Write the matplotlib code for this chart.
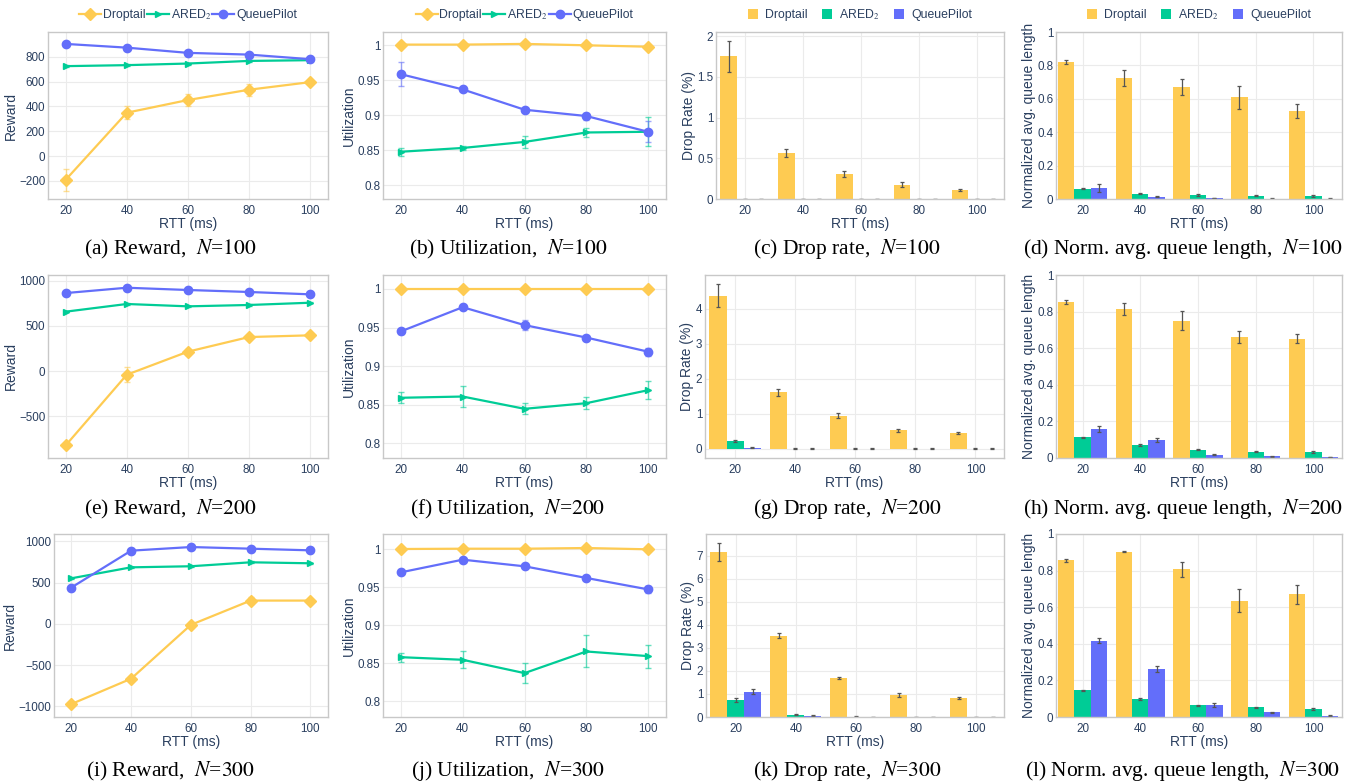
import matplotlib.pyplot as plt
import numpy as np
from matplotlib.ticker import FuncFormatter

plt.rcParams['font.family'] = ['Liberation Sans', 'DejaVu Sans']
plt.rcParams['mathtext.fontset'] = 'stix'

# Data
rtt = np.array([20, 40, 60, 80, 100])
schemes = ['Droptail', 'ARED$_2$', 'QueuePilot']
colors = ['#FECB52', '#00CC96', '#636EFA']
markers = ['D', '>', 'o']
flows = [100, 200, 300]

# reward: rows = Droptail, ARED2, QueuePilot
reward_100 = [[-190, 350, 452, 535, 596], [725, 733, 746, 767, 773], [904, 874, 832, 818, 781]]
reward_100_err = [[90, 50, 45, 50, 10], [10, 8, 8, 10, 10], [8, 8, 8, 8, 10]]
reward_200 = [[-823, -41, 214, 376, 395], [657, 742, 716, 731, 756], [863, 922, 897, 875, 849]]
reward_200_err = [[10, 80, 35, 20, 10], [8, 8, 8, 8, 8], [8, 8, 8, 8, 8]]
reward_300 = [[-972, -665, -12, 282, 282], [552, 685, 698, 746, 734], [440, 887, 931, 911, 891]]
reward_300_err = [[10, 15, 40, 40, 15], [8, 8, 8, 12, 8], [8, 8, 8, 8, 8]]

# utilization
util_100 = [[1.001, 1.001, 1.002, 1.0, 0.998], [0.848, 0.8534, 0.862, 0.8755, 0.8765], [0.9587, 0.937, 0.908, 0.899, 0.8765]]
util_100_err = [[0.002, 0.002, 0.002, 0.002, 0.002], [0.006, 0.003, 0.009, 0.006, 0.021], [0.017, 0.002, 0.002, 0.005, 0.015]]
util_200 = [[1.0, 1.0, 1.0, 1.0, 1.0], [0.859, 0.8606, 0.8447, 0.852, 0.8688], [0.945, 0.9763, 0.9531, 0.937, 0.9187]]
util_200_err = [[0.001, 0.001, 0.001, 0.001, 0.001], [0.007, 0.013, 0.007, 0.008, 0.012], [0.003, 0.002, 0.006, 0.002, 0.005]]
util_300 = [[1.0, 1.0004, 1.0004, 1.0013, 0.9996], [0.858, 0.8546, 0.8371, 0.8655, 0.8594], [0.9694, 0.986, 0.9773, 0.962, 0.947]]
util_300_err = [[0.001, 0.001, 0.001, 0.004, 0.001], [0.006, 0.011, 0.013, 0.021, 0.015], [0.002, 0.002, 0.002, 0.002, 0.005]]

# drop rate (%)
drop_100 = [[1.755, 0.563, 0.306, 0.175, 0.114], [0.002, 0.002, 0.002, 0.002, 0.002], [0.002, 0.002, 0.002, 0.002, 0.002]]
drop_100_err = [[0.19, 0.05, 0.035, 0.03, 0.01], [0.001, 0.001, 0.001, 0.001, 0.001], [0.001, 0.001, 0.001, 0.001, 0.001]]
drop_200 = [[4.38, 1.615, 0.94, 0.532, 0.447], [0.218, 0.005, 0.003, 0.003, 0.003], [0.03, 0.005, 0.003, 0.003, 0.003]]
drop_200_err = [[0.33, 0.1, 0.07, 0.04, 0.03], [0.03, 0.003, 0.003, 0.003, 0.003], [0.01, 0.003, 0.003, 0.003, 0.003]]
drop_300 = [[7.16, 3.535, 1.69, 0.95, 0.81], [0.736, 0.1, 0.015, 0.005, 0.005], [1.097, 0.058, 0.005, 0.005, 0.005]]
drop_300_err = [[0.37, 0.1, 0.04, 0.07, 0.05], [0.07, 0.02, 0.01, 0.005, 0.005], [0.1, 0.02, 0.005, 0.005, 0.005]]

# normalized avg. queue length
queue_100 = [[0.822, 0.7226, 0.6727, 0.609, 0.527], [0.06, 0.032, 0.024, 0.018, 0.018], [0.064, 0.014, 0.006, 0.002, 0.002]]
queue_100_err = [[0.012, 0.048, 0.048, 0.068, 0.042], [0.003, 0.004, 0.004, 0.003, 0.005], [0.025, 0.004, 0.002, 0.002, 0.002]]
queue_200 = [[0.851, 0.815, 0.751, 0.662, 0.653], [0.114, 0.071, 0.045, 0.034, 0.033], [0.158, 0.1, 0.018, 0.009, 0.005]]
queue_200_err = [[0.012, 0.033, 0.05, 0.033, 0.025], [0.003, 0.003, 0.003, 0.003, 0.005], [0.015, 0.01, 0.003, 0.002, 0.002]]
queue_300 = [[0.856, 0.903, 0.8066, 0.635, 0.67], [0.146, 0.0985, 0.064, 0.053, 0.044], [0.416, 0.261, 0.064, 0.0255, 0.0073]]
queue_300_err = [[0.01, 0.003, 0.04, 0.062, 0.05], [0.002, 0.003, 0.004, 0.004, 0.004], [0.013, 0.017, 0.01, 0.003, 0.002]]

metrics = [
    ('Reward', 'Reward', 'line', [reward_100, reward_200, reward_300], [reward_100_err, reward_200_err, reward_300_err]),
    ('Utilization', 'Utilization', 'line', [util_100, util_200, util_300], [util_100_err, util_200_err, util_300_err]),
    ('Drop rate', 'Drop Rate (%)', 'bar', [drop_100, drop_200, drop_300], [drop_100_err, drop_200_err, drop_300_err]),
    ('Norm. avg. queue length', 'Normalized avg. queue length', 'bar', [queue_100, queue_200, queue_300], [queue_100_err, queue_200_err, queue_300_err]),
]

ylims = [
    [(-345, 1000), (0.7805, 1.019), (0, 2.05), (0, 1.0)],
    [(-963, 1063), (0.781, 1.018), (-0.266, 4.97), (0, 1.0)],
    [(-1129, 1089), (0.7795, 1.0197), (0, 7.94), (0, 1.0)],
]
yticks = [
    [np.arange(-200, 801, 200), np.arange(0.8, 1.001, 0.05), np.arange(0, 2.01, 0.5), np.arange(0, 1.01, 0.2)],
    [np.arange(-500, 1001, 500), np.arange(0.8, 1.001, 0.05), np.arange(0, 4.1, 1), np.arange(0, 1.01, 0.2)],
    [np.arange(-1000, 1001, 500), np.arange(0.8, 1.001, 0.05), np.arange(0, 7.1, 1), np.arange(0, 1.01, 0.2)],
]

# Layout (pixels)
W, H = 1364, 783
row_tb = [(32, 199), (275, 458), (534, 717)]
col_lr = [
    [(48, 328), (383, 666), (716, 1004), (1056, 1342)],
    [(48, 328), (383, 666), (705, 1004), (1056, 1342)],
    [(54, 328), (383, 666), (706, 1004), (1056, 1342)],
]
xlims = [(14.2, 105.9), (14.2, 105.8), (10.0, 109.5), (10.8, 109.9)]
cap_x = [170, 508, 847, 1183]
cap_y = [249, 509, 771]

tick_color = '#2a3f5f'
fmt = FuncFormatter(lambda v, p: f'{v:g}'.replace('-', '\u2212'))

fig = plt.figure(figsize=(W / 100, H / 100), dpi=100)

letter = 'abcdefghijkl'
for r, n in enumerate(flows):
    top, bot = row_tb[r]
    for c, (name, ylabel, kind, vals, errs) in enumerate(metrics):
        left, right = col_lr[r][c]
        ax = fig.add_axes([left / W, 1 - bot / H, (right - left) / W, (bot - top) / H])
        ax.set_axisbelow(True)
        ax.grid(True, color='#ebebeb', linewidth=0.8)
        for s in ax.spines.values():
            s.set_color('#c8c8c8')
            s.set_linewidth(1)

        v = np.array(vals[r])
        e = np.array(errs[r])
        if kind == 'line':
            for i in range(3):
                ax.errorbar(rtt, v[i], yerr=e[i], fmt='none', ecolor=colors[i],
                            elinewidth=1, capsize=2, alpha=0.6)
                ax.plot(rtt, v[i], color=colors[i], linewidth=1.6, marker=markers[i],
                        markersize=6 if i != 1 else 5, label=schemes[i])
        else:
            w = 5.67
            for i in range(3):
                ax.bar(rtt + (i - 1) * w, v[i], width=w, color=colors[i], label=schemes[i],
                       yerr=e[i], error_kw=dict(ecolor='#555555', elinewidth=0.9,
                                                capsize=1.5, capthick=0.9))

        ax.set_xlim(xlims[c])
        ax.set_ylim(ylims[r][c])
        ax.set_xticks(rtt)
        ax.set_yticks(yticks[r][c])
        ax.yaxis.set_major_formatter(fmt)
        ax.tick_params(axis='both', length=0, labelsize=8.4, colors=tick_color)
        ax.tick_params(axis='x', pad=4)
        ax.tick_params(axis='y', pad=2)
        ax.set_xlabel('RTT (ms)', fontsize=10, color=tick_color, labelpad=0)
        ax.set_ylabel(ylabel, fontsize=10, color=tick_color, labelpad=1)

        if r == 0:
            if kind == 'line':
                ax.legend(loc='center', bbox_to_anchor=(0.5, 1.105), ncol=3, frameon=False,
                          fontsize=8.8, handlelength=1.8, handletextpad=0.15,
                          columnspacing=0.1, labelcolor=tick_color)
            else:
                ax.legend(loc='center', bbox_to_anchor=(0.5, 1.105), ncol=3, frameon=False,
                          fontsize=8.8, handlelength=0.8, handleheight=0.8,
                          handletextpad=0.6, columnspacing=1.2, labelcolor=tick_color)

        k = r * 4 + c
        fig.text(cap_x[c] / W, 1 - cap_y[r] / H, f'({letter[k]}) {name},  $N$=${n}$',
                 ha='center', va='center', fontsize=15.5, family='Liberation Serif')

plt.savefig('out.png', dpi=100)
